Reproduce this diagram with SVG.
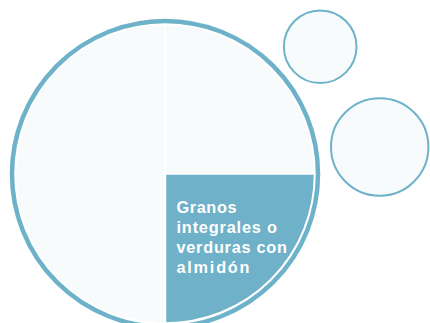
<svg xmlns="http://www.w3.org/2000/svg" width="430" height="323" viewBox="0 0 430 323">
<style>
.piece{fill:#f7fbfc;stroke:#ffffff;stroke-width:1.5}
.accent{fill:#6fb1c8;stroke:#ffffff;stroke-width:1.5}
.ring{fill:none;stroke:#6eb2ca;stroke-width:4.5}
.bubble{fill:#f7fbfc;stroke:#6eb2ca;stroke-width:2}
.label{font-family:"Liberation Sans",Arial,sans-serif;font-weight:bold;font-size:16.3px;fill:#ffffff}
</style>
<rect width="430" height="323" fill="#ffffff"/>
<g id="main-circle">
  <path class="piece" d="M165,174 L165,24.5 A149.5,149.5 0 0 0 165,323.5 Z"/>
  <path class="piece" d="M165,174 L165,24.5 A149.5,149.5 0 0 1 314.5,174 Z"/>
  <path class="accent" d="M165.5,174 L314.5,174 A149,149 0 0 1 165.5,323 Z"/>
  <circle class="ring" cx="165" cy="174" r="153"/>
</g>
<g id="label-granos">
  <text class="label" x="176.5" y="212.7" textLength="60" lengthAdjust="spacing">Granos</text>
  <text class="label" x="176.5" y="232.7" textLength="100.5" lengthAdjust="spacing">integrales o</text>
  <text class="label" x="176.5" y="252.7" textLength="110.5" lengthAdjust="spacing">verduras con</text>
  <text class="label" x="176.5" y="272.7" textLength="73" lengthAdjust="spacing">almidón</text>
</g>
<g id="bubble-1">
  <circle class="bubble" cx="320.2" cy="46.7" r="36.3"/>
</g>
<g id="bubble-2">
  <circle class="bubble" cx="379.7" cy="147" r="48.7"/>
</g>
<g id="connectors"></g>
</svg>
